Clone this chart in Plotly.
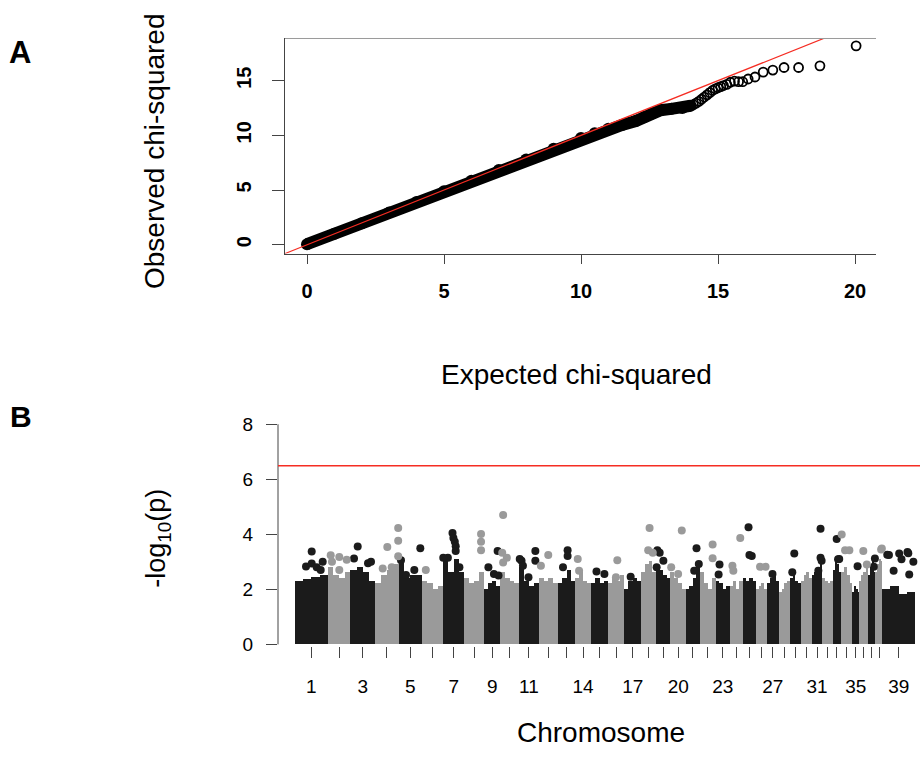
import plotly.graph_objects as go

# ---------------- Panel A : QQ plot data ----------------
qq_band_expected = [0.0, 1.0, 2.0, 3.0, 4.0, 5.0, 6.0, 7.0, 8.0, 9.0, 10.0, 10.5, 11.0, 11.5, 12.0,
                    12.3, 12.6, 12.9, 13.3, 13.7, 14.0]
qq_band_observed = [0.05, 1.0, 1.97, 2.94, 3.91, 4.88, 5.86, 6.83, 7.8, 8.78, 9.76, 10.2, 10.6, 10.95, 11.3,
                    11.65, 12.0, 12.3, 12.42, 12.5, 12.7]

qq_tail_expected = [14.1, 14.2, 14.3, 14.4, 14.5, 14.6, 14.7, 14.8, 14.9, 15.0, 15.1, 15.2, 15.32,
                    15.45, 15.6, 15.75, 15.9, 16.1, 16.35, 16.65, 17.0, 17.41, 17.94, 18.72, 20.04]
qq_tail_observed = [12.8, 12.95, 13.1, 13.3, 13.5, 13.7, 13.9, 14.1, 14.25, 14.35, 14.45, 14.55, 14.65,
                    14.85, 14.95, 14.9, 14.9, 15.15, 15.33, 15.78, 15.96, 16.2, 16.2, 16.35, 18.18]

qq_xticks = [0, 5, 10, 15, 20]
qq_yticks = [0, 5, 10, 15]

# ---------------- Panel B : Manhattan plot data ----------------
chrom_lengths = [122.7, 85.4, 92.0, 88.3, 88.9, 77.6, 80.9, 74.1, 61.1, 69.3,
                 74.4, 72.5, 63.2, 60.9, 64.2, 59.6, 64.3, 55.8, 53.7, 58.1,
                 50.9, 61.4, 52.3, 47.7, 51.6, 38.9, 46.0, 41.2, 41.8, 40.2,
                 39.9, 38.8, 31.4, 42.1, 26.5, 30.8, 30.9, 23.9, 123.9]
chrom_labeled = [1, 3, 5, 7, 9, 11, 14, 17, 20, 23, 27, 31, 35, 39]

# upper edge of the dense cloud of SNPs, 4 segments per chromosome
dense_top = [
    [2.3, 2.35, 2.45, 2.5], [2.8, 2.5, 2.4, 2.6], [2.7, 2.8, 2.6, 2.3], [2.2, 2.5, 2.7, 2.9],
    [2.95, 2.4, 2.5, 2.5], [2.3, 2.2, 2.0, 2.1], [3.1, 2.6, 3.1, 2.6], [2.4, 2.2, 2.3, 2.6],
    [2.0, 2.2, 2.3, 2.1], [2.6, 2.4, 2.3, 2.2], [2.8, 2.3, 2.1, 2.2], [2.4, 2.3, 2.4, 2.2],
    [2.2, 2.4, 2.7, 2.3], [2.4, 2.6, 2.3, 2.2], [2.2, 2.4, 2.2, 2.3], [2.2, 2.4, 2.3, 2.5],
    [2.0, 2.3, 2.4, 2.3], [2.6, 2.9, 3.0, 2.6], [2.8, 2.7, 2.5, 2.4], [2.6, 2.4, 2.2, 2.0],
    [2.0, 2.1, 2.4, 2.8], [2.6, 2.2, 2.0, 2.4], [2.3, 2.2, 2.0, 2.1], [2.1, 2.3, 2.0, 2.3],
    [2.4, 2.3, 2.4, 2.3], [2.0, 2.1, 2.2, 2.0], [2.2, 2.4, 2.5, 2.3], [1.9, 2.0, 2.2, 2.3],
    [2.4, 2.5, 2.3, 2.2], [2.3, 2.5, 2.6, 2.4], [2.5, 2.6, 2.7, 2.9], [2.4, 2.3, 2.2, 2.3],
    [2.7, 3.0, 2.9, 2.6], [2.6, 2.8, 2.5, 2.2], [1.9, 2.1, 2.0, 1.9], [2.3, 2.5, 2.6, 2.9],
    [2.5, 2.8, 3.0, 2.6], [2.6, 2.9, 3.1, 3.0], [2.0, 2.1, 1.8, 1.9],
]

# individual SNPs standing above the dense cloud: chromosome, position (Mb), -log10(p)
snp_chr = [1, 1, 1, 1, 1, 1,
           2, 2, 2, 2, 2,
           3, 3, 3, 3,
           4, 4, 4, 4, 4, 4,
           5, 5, 5, 5,
           6,
           7, 7, 7, 7, 7, 7, 7, 7,
           8, 8, 8,
           9, 9, 9, 9,
           10, 10, 10, 10,
           11, 11, 11, 11, 11, 11,
           12, 12,
           13, 13, 13,
           14, 14,
           15, 15,
           16, 16,
           17,
           18, 18, 18,
           19, 19, 19, 19,
           20, 20, 20,
           21, 21, 21,
           22, 22,
           23, 23,
           24, 24, 24,
           25, 25, 25,
           26, 26,
           27,
           29, 29,
           31, 31, 31, 31,
           33, 33, 33,
           34, 34, 34,
           35,
           36, 36,
           37, 37,
           38, 38,
           39, 39, 39, 39, 39, 39, 39, 39, 39]
snp_pos = [62.7, 41.3, 62.7, 81.4, 103.9, 96.4,
           11.3, 43.5, 71.3, 43.5, 16.0,
           27.2, 13.3, 65.9, 77.1,
           46.2, 29.0, 62.8, 87.1, 87.1, 87.1,
           81.8, 28.1, 59.3, 9.3,
           13.5,
           36.1, 39.5, 44.7, 48.1, 48.1, 18.8, 1.5, 62.0,
           62.3, 62.3, 62.3,
           15.8, 36.5, 53.8, 50.4,
           10.0, 6.5, 23.8, 10.0,
           9.7, 3.0, 15.0, 35.8, 61.6, 61.6,
           8.0, 35.6,
           35.7, 35.7, 18.4,
           10.5, 15.6,
           20.0, 49.7,
           33.9, 28.8,
           24.4,
           31.0, 25.9, 43.1,
           4.5, 13.2, 27.0, 1.8,
           42.4, 2.7, 28.6,
           39.6, 30.9, 48.2,
           49.1, 49.1,
           13.7, 10.2,
           39.1, 9.7, 13.2,
           22.5, 25.9, 34.6,
           14.1, 34.8,
           21.8,
           16.5, 9.0,
           33.0, 33.0, 37.0, 24.7,
           14.8, 24.4, 20.0,
           2.3, 15.0, 31.0,
           19.8,
           14.8, 28.0,
           27.5, 23.2,
           20.0, 22.5,
           19.0, 25.4, 63.8, 72.5, 95.0, 117.0, 43.0, 98.0, 101.5]
snp_val = [3.38, 2.83, 2.94, 2.8, 3.0, 2.7,
           3.24, 3.18, 3.08, 2.7, 3.0,
           3.56, 3.12, 2.95, 3.0,
           3.54, 2.76, 2.8, 4.23, 3.77, 3.2,
           3.49, 2.52, 2.7, 3.06,
           2.7,
           4.05, 3.87, 3.73, 3.57, 3.39, 3.15, 3.15, 2.8,
           4.01, 3.73, 3.42,
           2.8, 2.56, 2.5, 3.39,
           4.7, 3.33, 3.15, 2.98,
           3.04, 3.1, 2.86, 2.44, 3.39, 3.04,
           2.86, 3.25,
           3.42, 3.21, 2.8,
           3.1, 2.68,
           2.65, 2.56,
           3.06, 2.44,
           2.46,
           4.23, 3.42, 3.33,
           3.42, 3.33, 3.04, 2.8,
           4.14, 2.8, 2.56,
           3.49, 2.68, 2.92,
           3.63, 3.13,
           2.9, 2.54,
           3.87, 2.86, 2.68,
           4.26, 3.25, 3.21,
           2.82, 2.82,
           2.56,
           3.3, 2.62,
           4.2, 3.15, 3.04, 2.68,
           3.83, 3.1, 3.09,
           3.99, 3.42, 3.42,
           2.84,
           3.39, 2.9,
           3.12, 2.82,
           3.45, 3.48,
           3.26, 3.25, 3.3, 3.09, 3.36, 3.0, 2.68, 3.31, 2.54]

threshold = 6.49
mh_yticks = [0, 2, 4, 6, 8]

# ---------------- derived positions ----------------
chrom_start = []
acc = 0.0
for L in chrom_lengths:
    chrom_start.append(acc)
    acc += L
chrom_center = [s + L / 2 for s, L in zip(chrom_start, chrom_lengths)]
lab_vals = [chrom_center[c - 1] for c in chrom_labeled]
lab_text = [str(c) for c in chrom_labeled]

BLACK = "#1b1b1b"
GRAY = "#9a9a9a"
AXC = "#444444"
FONT = "Liberation Sans"

bar_x = {0: [], 1: []}
bar_y = {0: [], 1: []}
bar_w = {0: [], 1: []}
for i, (s, L, tops) in enumerate(zip(chrom_start, chrom_lengths, dense_top)):
    g = i % 2
    w = L / len(tops)
    for k, h in enumerate(tops):
        bar_x[g].append(s + (k + 0.5) * w)
        bar_y[g].append(h)
        bar_w[g].append(w)

pt_x = {0: [], 1: []}
pt_y = {0: [], 1: []}
for c, p, v in zip(snp_chr, snp_pos, snp_val):
    g = (c - 1) % 2
    pt_x[g].append(chrom_start[c - 1] + p)
    pt_y[g].append(v)

fig = go.Figure()

# ---- Panel A traces ----
fig.add_trace(go.Scatter(x=qq_band_expected, y=qq_band_observed, mode="lines+markers",
                         line=dict(color="black", width=12),
                         marker=dict(color="black", size=12),
                         xaxis="x", yaxis="y", showlegend=False, hoverinfo="skip"))
fig.add_trace(go.Scatter(x=qq_tail_expected, y=qq_tail_observed, mode="markers",
                         marker=dict(symbol="circle-open", color="black", size=9,
                                     line=dict(width=1.8, color="black")),
                         xaxis="x", yaxis="y", showlegend=False))
fig.add_trace(go.Scatter(x=[-1, 21], y=[-1, 21], mode="lines",
                         line=dict(color="rgb(245,45,35)", width=1.2),
                         xaxis="x", yaxis="y", showlegend=False, hoverinfo="skip"))

# ---- Panel B traces ----
for g, col in ((0, BLACK), (1, GRAY)):
    fig.add_trace(go.Bar(x=bar_x[g], y=bar_y[g], width=bar_w[g], marker=dict(color=col, line=dict(width=0)),
                         xaxis="x2", yaxis="y2", showlegend=False))
    fig.add_trace(go.Scatter(x=pt_x[g], y=pt_y[g], mode="markers",
                             marker=dict(color=col, size=8), cliponaxis=False,
                             xaxis="x2", yaxis="y2", showlegend=False))
# invisible carrier for the unlabeled chromosome ticks axis
fig.add_trace(go.Scatter(x=[chrom_center[0]], y=[0], mode="markers", marker=dict(opacity=0),
                         xaxis="x3", yaxis="y2", showlegend=False, hoverinfo="skip"))

W, H = 920, 757


def px_x(v):
    return v / W


def px_y(v):
    return 1 - v / H


tickA = dict(family=FONT, size=20, color="black", weight="bold")
tickB = dict(family=FONT, size=19, color="black")
XR2 = [-63.8, 2345.2]

fig.update_layout(
    width=W, height=H,
    margin=dict(l=0, r=0, t=0, b=0),
    paper_bgcolor="white", plot_bgcolor="white",
    barmode="overlay", bargap=0,
    xaxis=dict(domain=[px_x(285), px_x(876)], range=[-0.803, 20.766], anchor="y",
               tickvals=qq_xticks, ticks="outside", ticklen=9, tickcolor=AXC, tickwidth=1,
               showline=True, linecolor=AXC, linewidth=1, showgrid=False, zeroline=False,
               tickfont=tickA, ticklabelstandoff=10),
    yaxis=dict(domain=[px_y(256), px_y(38)], range=[-0.81, 18.85], anchor="x",
               tickvals=qq_yticks, ticks="outside", ticklen=12, tickcolor=AXC, tickwidth=1,
               showline=True, linecolor=AXC, linewidth=1, showgrid=False, zeroline=False,
               tickangle=-90, tickfont=tickA, ticklabelstandoff=13),
    xaxis2=dict(domain=[px_x(278), 1.0], range=XR2, anchor="y2",
                tickvals=lab_vals, ticktext=lab_text, ticks="outside", ticklen=11,
                tickcolor=AXC, tickwidth=1, showline=False, showgrid=False, zeroline=False,
                tickfont=tickB, ticklabelstandoff=12),
    xaxis3=dict(domain=[px_x(278), 1.0], range=XR2, anchor="y2", overlaying="x2", side="bottom",
                tickvals=chrom_center, showticklabels=False, ticks="outside", ticklen=11,
                tickcolor=AXC, tickwidth=1, showline=False, showgrid=False, zeroline=False),
    yaxis2=dict(domain=[px_y(654), px_y(420)], range=[-0.072, 8.32], anchor="x2",
                tickvals=mh_yticks, ticks="outside", ticklen=11, tickcolor=AXC, tickwidth=1,
                showline=False, showgrid=False, zeroline=False, tickfont=tickB,
                ticklabelstandoff=9),
    shapes=[
        dict(type="line", xref="x domain", yref="y domain", x0=0, x1=1, y0=1, y1=1,
             line=dict(color="#9a9a9a", width=1)),
        dict(type="line", xref="x2 domain", yref="y2", x0=0, x1=0, y0=0, y1=8,
             line=dict(color=AXC, width=1)),
        dict(type="line", xref="x2 domain", yref="y2", x0=0, x1=1, y0=threshold, y1=threshold,
             line=dict(color="rgb(245,45,35)", width=1.5)),
    ],
    annotations=[
        dict(text="A", x=px_x(20), y=px_y(52), xref="paper", yref="paper",
             showarrow=False, font=dict(family=FONT, size=31, color="black", weight="bold"),
             xanchor="center", yanchor="middle"),
        dict(text="B", x=px_x(21), y=px_y(421), xref="paper", yref="paper",
             showarrow=False, font=dict(family=FONT, size=30, color="black", weight="bold"),
             xanchor="center", yanchor="middle"),
        dict(text="Observed chi-squared", x=px_x(155), y=px_y(153), xref="paper", yref="paper",
             showarrow=False, textangle=-90, font=dict(family=FONT, size=28, color="black"),
             xanchor="center", yanchor="middle"),
        dict(text="Expected chi-squared", x=px_x(576), y=px_y(378), xref="paper", yref="paper",
             showarrow=False, font=dict(family=FONT, size=28, color="black"),
             xanchor="center", yanchor="middle"),
        dict(text="-log<sub>10</sub>(p)", x=px_x(158), y=px_y(545), xref="paper", yref="paper",
             showarrow=False, textangle=-90, font=dict(family=FONT, size=27, color="black"),
             xanchor="center", yanchor="middle"),
        dict(text="Chromosome", x=px_x(601), y=px_y(741), xref="paper", yref="paper",
             showarrow=False, font=dict(family=FONT, size=28, color="black"),
             xanchor="center", yanchor="middle"),
    ],
)

fig.write_html("out.html")
